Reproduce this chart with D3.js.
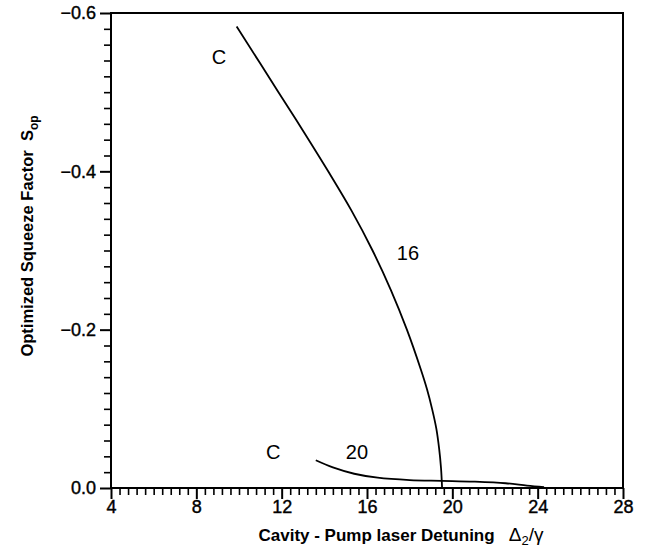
<!DOCTYPE html>
<html>
<head>
<meta charset="utf-8">
<script src="https://cdn.jsdelivr.net/npm/d3@7"></script>
<style>
  html, body { margin: 0; padding: 0; background: #fff; }
  svg { display: block; }
  text { font-family: "Liberation Sans", Arial, Helvetica, sans-serif; fill: #000; }
</style>
</head>
<body>
<svg id="chart" width="647" height="548"></svg>
<script>
// Squeeze factor vs. cavity-pump detuning, two curves (16 and 20)
const xMajorTicks = [4, 8, 12, 16, 20, 24, 28];
const yMajorTicks = [0, -0.2, -0.4, -0.6];

const x16 = [9.89, 11.85, 13.03, 14.18, 15.28, 16.26, 17.12, 17.87, 18.52, 18.81, 19.05, 19.25, 19.38, 19.47, 19.52];
const y16 = [-0.583, -0.50, -0.45, -0.40, -0.35, -0.30, -0.25, -0.20, -0.15, -0.125, -0.10, -0.075, -0.05, -0.025, 0];

const x20 = [13.6, 14.4, 15.4, 16.5, 18.0, 19.5, 21.0, 22.5, 23.5, 24.3];
const y20 = [-0.035, -0.026, -0.018, -0.013, -0.010, -0.009, -0.008, -0.006, -0.003, -0.001];

const labelText = ["C", "16", "C", "20"];
const labelX = [9.06, 17.92, 11.6, 15.53];
const labelY = [-0.544, -0.297, -0.045, -0.045];

const svg = d3.select("#chart");
const plotLeft = 111, plotRight = 623, plotTop = 13, plotBottom = 488;

const x = d3.scaleLinear().domain([4, 28]).range([plotLeft, plotRight]);
const y = d3.scaleLinear().domain([0, -0.6]).range([plotBottom, plotTop]);

// minor ticks
const xMinor = d3.range(0, 61).map(i => 4 + i * 0.4).filter(v => !xMajorTicks.some(m => Math.abs(m - v) < 1e-6));
const yMinor = d3.range(0, 31).map(i => -i * 0.02).filter(v => !yMajorTicks.some(m => Math.abs(m - v) < 1e-6));

svg.append("g")
  .attr("transform", `translate(0,${plotBottom})`)
  .call(d3.axisBottom(x).tickValues(xMinor).tickSize(7).tickFormat(""))
  .call(g => g.select(".domain").remove())
  .selectAll("line").attr("stroke", "#000").attr("stroke-width", 1.6);

svg.append("g")
  .attr("transform", `translate(${plotLeft},0)`)
  .call(d3.axisLeft(y).tickValues(yMinor).tickSize(7).tickFormat(""))
  .call(g => g.select(".domain").remove())
  .selectAll("line").attr("stroke", "#000").attr("stroke-width", 1.6);

const xAxis = svg.append("g")
  .attr("transform", `translate(0,${plotBottom})`)
  .call(d3.axisBottom(x).tickValues(xMajorTicks).tickSize(11).tickPadding(1).tickFormat(d3.format("d")));
xAxis.select(".domain").remove();
xAxis.selectAll("line").attr("stroke", "#000").attr("stroke-width", 2);
xAxis.selectAll("text").attr("font-size", 18).attr("stroke", "#000").attr("stroke-width", 0.4);

const yAxis = svg.append("g")
  .attr("transform", `translate(${plotLeft},0)`)
  .call(d3.axisLeft(y).tickValues(yMajorTicks).tickSize(11).tickPadding(4).tickFormat(d3.format(".1f")));
yAxis.select(".domain").remove();
yAxis.selectAll("line").attr("stroke", "#000").attr("stroke-width", 2);
yAxis.selectAll("text").attr("font-size", 18).attr("stroke", "#000").attr("stroke-width", 0.4);

// frame
svg.append("rect")
  .attr("x", plotLeft).attr("y", plotTop)
  .attr("width", plotRight - plotLeft).attr("height", plotBottom - plotTop)
  .attr("fill", "none").attr("stroke", "#000").attr("stroke-width", 2);

// curves
const line = d3.line().x(d => x(d[0])).y(d => y(d[1])).curve(d3.curveCatmullRom.alpha(0.5));
[[x16, y16], [x20, y20]].forEach(([xs, ys]) => {
  svg.append("path")
    .datum(xs.map((v, i) => [v, ys[i]]))
    .attr("d", line)
    .attr("fill", "none")
    .attr("stroke", "#000")
    .attr("stroke-width", 1.8);
});

// curve labels
labelText.forEach((t, i) => {
  svg.append("text")
    .attr("x", x(labelX[i])).attr("y", y(labelY[i]))
    .attr("text-anchor", "middle").attr("dominant-baseline", "central")
    .attr("font-size", 20)
    .text(t);
});

// axis titles
const xt = svg.append("text")
  .attr("x", 401).attr("y", 541)
  .attr("text-anchor", "middle")
  .attr("font-size", 17).attr("font-weight", "bold");
xt.append("tspan").text("Cavity - Pump laser Detuning\u00a0\u00a0\u00a0");
xt.append("tspan").attr("font-weight", "normal").attr("font-size", 19).text("\u0394");
xt.append("tspan").attr("font-weight", "normal").attr("font-size", 13).attr("dy", 4).text("2");
xt.append("tspan").attr("font-weight", "normal").attr("font-size", 19).attr("dy", -4).text("/\u03b3");

const yt = svg.append("text")
  .attr("transform", "translate(33,236) rotate(-90)")
  .attr("text-anchor", "middle")
  .attr("font-size", 16.5).attr("font-weight", "bold");
yt.append("tspan").text("Optimized Squeeze Factor\u00a0\u00a0S");
yt.append("tspan").attr("font-size", 12).attr("dy", 5).text("op");
</script>
</body>
</html>
